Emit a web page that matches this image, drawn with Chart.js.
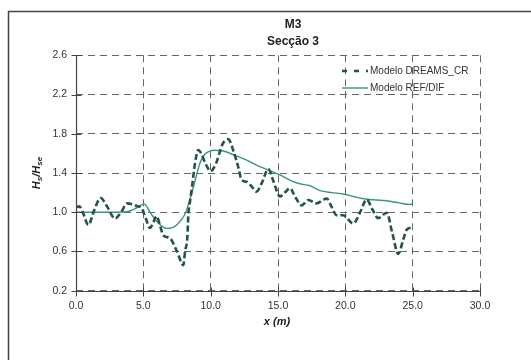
<!DOCTYPE html>
<html>
<head>
<meta charset="utf-8">
<script src="https://cdn.jsdelivr.net/npm/chart.js@4"></script>
<style>
  body { margin: 0; background: #fff; }
</style>
</head>
<body>
<canvas id="chart" width="531" height="360"></canvas>
<script>
// values
const dreamsX = [0.0, 0.25, 0.5, 0.92, 1.35, 1.83, 2.3, 2.9, 3.35, 3.8, 4.2, 4.5, 4.88, 5.2, 5.49, 5.75, 5.99, 6.25, 6.48, 6.98, 7.5, 7.97,
  8.1, 8.27, 8.34, 8.5, 8.65, 8.84, 9.08, 9.3, 9.6, 10.0, 10.4, 10.9, 11.3, 11.7, 12.05, 12.3, 12.67, 13.0, 13.4, 13.8, 14.28, 14.7,
  15.14, 15.5, 15.89, 16.3, 16.76, 17.25, 17.87, 18.3, 18.61, 19.0, 19.35, 19.84, 20.59, 21.1, 21.58, 22.0, 22.44, 23.07, 23.5,
  23.93, 24.3, 24.55, 25.0];
const dreamsY = [1.05, 1.06, 1.0, 0.87, 1.02, 1.145, 1.06, 0.935, 1.0, 1.09, 1.08, 1.065, 1.04, 0.93, 0.84, 0.9, 0.96, 0.86, 0.765, 0.735, 0.6, 0.46,
  0.6, 0.75, 0.97, 1.14, 1.3, 1.5, 1.635, 1.6, 1.5, 1.42, 1.5, 1.7, 1.745, 1.62, 1.46, 1.33, 1.31, 1.27, 1.21, 1.3, 1.44, 1.3,
  1.16, 1.2, 1.245, 1.15, 1.07, 1.125, 1.09, 1.12, 1.14, 1.05, 0.97, 0.97, 0.885, 1.0, 1.13, 1.03, 0.94, 0.995, 0.78,
  0.575, 0.72, 0.82, 0.845];

const refX = [0, 1, 2, 3, 3.76, 4.3, 4.7, 5.05, 5.3, 5.49, 6.11, 6.73, 7.1, 7.47, 8.09, 8.46, 8.8, 9.2, 9.5, 9.82, 10.19, 10.6, 10.94,
  11.8, 12.67, 13.4, 14.16, 15.14, 16.0, 16.63, 17.37, 18.12, 19.0, 19.84, 20.6, 21.58, 22.3, 23.07, 24.0, 24.8, 25.0];
const refY = [1.0, 1.0, 1.0, 1.0, 1.005, 1.03, 1.06, 1.085, 1.05, 1.0, 0.89, 0.835, 0.84, 0.87, 0.98, 1.13, 1.3, 1.5, 1.58, 1.615, 1.632, 1.63, 1.624,
  1.58, 1.532, 1.48, 1.437, 1.38, 1.32, 1.29, 1.27, 1.22, 1.2, 1.186, 1.16, 1.132, 1.125, 1.117, 1.095, 1.08, 1.09];

const seriesNames = ['Modelo DREAMS_CR', 'Modelo REF/DIF'];
const xTicks = [0, 5, 10, 15, 20, 25, 30];
const yTicks = [0.2, 0.6, 1.0, 1.4, 1.8, 2.2, 2.6];

const toPoints = (xs, ys) => xs.map((x, i) => ({ x: x, y: ys[i] }));

const FONT = '"Liberation Sans", Arial, sans-serif';

// frame, titles, axis titles, solid axes with tick marks, legend
const decorations = {
    id: 'decorations',
    afterDraw(chart) {
        const ctx = chart.ctx;
        const xs = chart.scales.x, ys = chart.scales.y;
        const area = chart.chartArea;
        ctx.save();

        // outer frame (cut by the picture on right and bottom)
        ctx.strokeStyle = '#444';
        ctx.lineWidth = 1.5;
        ctx.strokeRect(8.5, 11.5, 700, 500);

        // solid left and bottom axes
        const left = Math.round(area.left) + 0.5;
        const bottom = Math.round(area.bottom) + 0.5;
        ctx.lineWidth = 1.2;
        ctx.strokeStyle = '#444';
        ctx.beginPath();
        ctx.moveTo(left, area.top);
        ctx.lineTo(left, bottom);
        ctx.lineTo(area.right, bottom);
        ctx.stroke();

        // tick marks crossing the axes
        ctx.lineWidth = 1;
        ctx.beginPath();
        xTicks.forEach(v => {
            const px = Math.round(xs.getPixelForValue(v)) + 0.5;
            ctx.moveTo(px, bottom + 5);
            ctx.lineTo(px, bottom - 4);
        });
        yTicks.forEach(v => {
            const py = Math.round(ys.getPixelForValue(v)) + 0.5;
            ctx.moveTo(left - 5, py);
            ctx.lineTo(left + 5, py);
        });
        ctx.stroke();

        // title
        ctx.fillStyle = '#222';
        ctx.textAlign = 'center';
        ctx.textBaseline = 'middle';
        ctx.font = 'bold 12px ' + FONT;
        ctx.fillText('M3', 293, 25);
        ctx.fillText('Secção 3', 293, 42);

        // x axis title
        ctx.font = 'italic bold 11px ' + FONT;
        ctx.fillText('x (m)', 277, 322);

        // y axis title H_s/H_se
        ctx.translate(37, 173);
        ctx.rotate(-Math.PI / 2);
        const big = 'italic bold 11px ' + FONT;
        const small = 'italic bold 8px ' + FONT;
        const parts = [['H', big, 0], ['s', small, 3], ['/H', big, 0], ['se', small, 3]];
        let total = 0;
        parts.forEach(p => { ctx.font = p[1]; total += ctx.measureText(p[0]).width; });
        let cx = -total / 2;
        ctx.textAlign = 'left';
        parts.forEach(p => {
            ctx.font = p[1];
            ctx.fillText(p[0], cx, p[2]);
            cx += ctx.measureText(p[0]).width;
        });
        ctx.setTransform(1, 0, 0, 1, 0, 0);

        // legend inside the plot
        const rows = [71, 88];
        const sampleDash = [[5, 7], []];
        chart.data.datasets.forEach((ds, i) => {
            ctx.strokeStyle = ds.borderColor;
            ctx.lineWidth = ds.borderWidth;
            ctx.setLineDash(sampleDash[i]);
            ctx.beginPath();
            ctx.moveTo(342, rows[i]);
            ctx.lineTo(368, rows[i]);
            ctx.stroke();
            ctx.setLineDash([]);
            ctx.fillStyle = '#333';
            ctx.font = '10px ' + FONT;
            ctx.textAlign = 'left';
            ctx.textBaseline = 'middle';
            ctx.fillText(ds.label, 370, rows[i]);
        });
        ctx.restore();
    }
};

new Chart(document.getElementById('chart'), {
    type: 'scatter',
    data: {
        datasets: [{
            label: seriesNames[0],
            data: toPoints(dreamsX, dreamsY),
            showLine: true,
            borderColor: '#22573b',
            borderWidth: 2.6,
            borderDash: [6, 3],
            pointRadius: 0,
            cubicInterpolationMode: 'monotone'
        }, {
            label: seriesNames[1],
            data: toPoints(refX, refY),
            showLine: true,
            borderColor: '#3b9483',
            borderWidth: 1.4,
            pointRadius: 0,
            cubicInterpolationMode: 'monotone'
        }]
    },
    options: {
        responsive: false,
        animation: false,
        devicePixelRatio: 1,
        layout: { padding: { left: 0, top: 55.3, right: 51, bottom: 0 } },
        plugins: {
            legend: { display: false },
            title: { display: false },
            tooltip: { enabled: false }
        },
        scales: {
            x: {
                type: 'linear',
                min: 0,
                max: 30,
                afterBuildTicks: s => { s.ticks = xTicks.map(v => ({ value: v })); },
                afterFit: s => { s.height = 69.3; },
                ticks: {
                    callback: v => v.toFixed(1),
                    color: '#333',
                    font: { family: FONT, size: 10.5 },
                    padding: 4,
                    maxRotation: 0
                },
                grid: { color: '#666', lineWidth: 1, tickLength: 5, drawTicks: true, tickColor: 'rgba(0,0,0,0)' },
                border: { display: false, dash: [7, 5] }
            },
            y: {
                type: 'linear',
                min: 0.2,
                max: 2.6,
                afterBuildTicks: s => { s.ticks = yTicks.map(v => ({ value: v })); },
                afterFit: s => { s.width = 76; },
                ticks: {
                    callback: v => v.toFixed(1),
                    color: '#333',
                    font: { family: FONT, size: 10.5 },
                    padding: 4
                },
                grid: { color: '#666', lineWidth: 1, tickLength: 5, drawTicks: true, tickColor: 'rgba(0,0,0,0)' },
                border: { display: false, dash: [7, 5] }
            }
        }
    },
    plugins: [decorations]
});
</script>
</body>
</html>
